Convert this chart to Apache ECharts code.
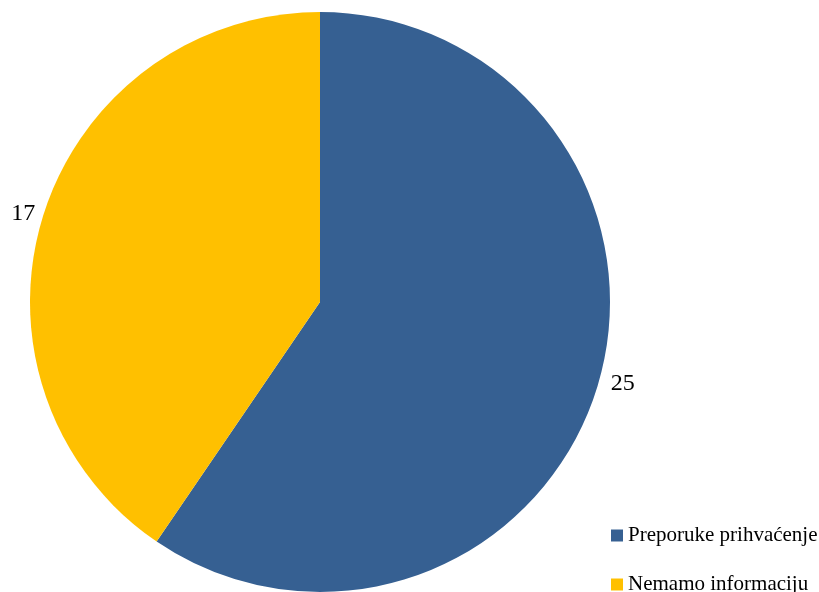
<!DOCTYPE html>
<html><head><meta charset="utf-8">
<script src="https://cdn.jsdelivr.net/npm/echarts@6/dist/echarts.min.js"></script>
<style>html,body{margin:0;padding:0;background:#fff}#c{width:819px;height:592px}</style>
</head><body><div id="c"></div>
<script>
const categories = ["Preporuke prihvaćenje", "Nemamo informaciju"];
const values = [25, 17];
const colors = ["#366092", "#FFC000"];
const chart = echarts.init(document.getElementById('c'));
const legendTops = [520, 569];
chart.setOption({
  animation: false,
  color: colors,
  legend: categories.map((c, i) => ({
    orient: 'vertical', left: 606, top: legendTops[i],
    itemWidth: 12, itemHeight: 12,
    icon: 'rect',
    textStyle: {fontFamily: 'Liberation Serif', fontSize: 21, color: '#000'},
    data: [c]
  })),
  series: [{
    type: 'pie',
    center: [320, 302], radius: [0, 290],
    startAngle: 90, clockwise: true,
    avoidLabelOverlap: false,
    label: {show: true, position: 'outside', formatter: '{c}', fontFamily: 'Liberation Serif', fontSize: 24, color: '#000', distanceToLabelLine: 0},
    labelLine: {show: false, length: 8, length2: 0},
    itemStyle: {borderWidth: 0},
    data: categories.map((n, i) => ({name: n, value: values[i], label: i === 0 ? {offset: [6, -6]} : {}}))
  }]
});
</script></body></html>
